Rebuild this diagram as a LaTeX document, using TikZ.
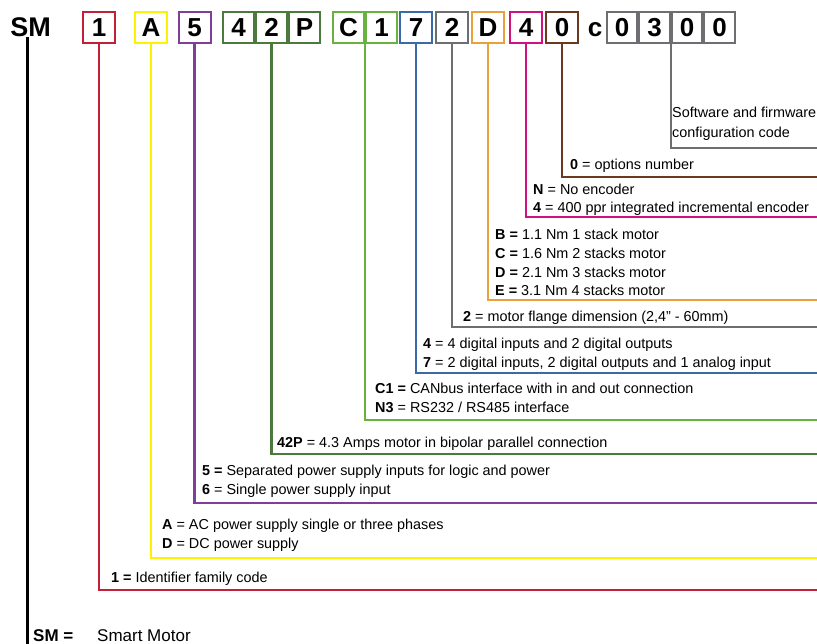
\documentclass[tikz,border=0pt]{standalone}
\usepackage{fontspec}
\setmainfont{Liberation Sans}
\usetikzlibrary{positioning}
\definecolor{smred}{HTML}{C12038}
\definecolor{smyellow}{HTML}{FFF200}
\definecolor{smpurple}{HTML}{7F3F98}
\definecolor{smdkgreen}{HTML}{4B7A3E}
\definecolor{smltgreen}{HTML}{6AB23F}
\definecolor{smblue}{HTML}{3A6BA8}
\definecolor{smgray}{HTML}{6D6E71}
\definecolor{smorange}{HTML}{E9A23B}
\definecolor{smmagenta}{HTML}{D2117F}
\definecolor{smbrown}{HTML}{6B3A1E}

\begin{document}
\begin{tikzpicture} [
x=1pt, y=-1pt,
codebox/.style={rectangle, draw=#1, line width=2pt, minimum width=31pt, minimum height=31pt, inner sep=0pt, font=\bfseries\fontsize{26}{26}\selectfont},
bracket/.style={draw=#1, line width=2.5pt},
legend/.style={anchor=base west, inner sep=0pt, align=left, font=\fontsize{14.4}{18.8}\selectfont},
]
\useasboundingbox (0,0) rectangle (817,644);

%Code
\node[inner sep=0pt, font=\bfseries\fontsize{27}{27}\selectfont] (sm) at (30.5,27.5) {SM};
\node[codebox=smred, minimum width=32pt]     (one)    at (99,27.5)    {1};
\node[codebox=smyellow, minimum width=32pt]  (ac)     at (151,27.5)   {A};
\node[codebox=smpurple, minimum width=32pt]  (five)   at (194.5,27.5) {5};
\node[codebox=smdkgreen]   (ampA)   at (238.5,27.5)          {4};
\node[codebox=smdkgreen]   (ampB)   [right=0pt of ampA]      {2};
\node[codebox=smdkgreen]   (ampC)   [right=0pt of ampB]      {P};
\node[codebox=smltgreen]   (busA)   at (348.5,27.5)          {C};
\node[codebox=smltgreen]   (busB)   [right=0pt of busA]      {1};
\node[codebox=smblue, minimum width=32pt]    (io)     at (416,27.5)   {7};
\node[codebox=smgray, minimum width=32pt]    (flange) at (452,27.5)   {2};
\node[codebox=smorange, minimum width=32pt]  (torque) at (488,27.5)   {D};
\node[codebox=smmagenta, minimum width=32pt] (enc)    at (526,27.5)   {4};
\node[codebox=smbrown, minimum width=32pt]   (opt)    at (562,27.5)   {0};
\node[anchor=base, inner sep=0pt, font=\bfseries\fontsize{26}{26}\selectfont] (cfg) at (595,37) {c};
\node[codebox=smgray, minimum width=30.5pt]  (swA)    at (622,27.5)   {0};
\node[codebox=smgray, minimum width=30.5pt]  (swB)    [right=0pt of swA]  {3};
\node[codebox=smgray, minimum width=30.5pt]  (swC)    [right=0pt of swB]  {0};
\node[codebox=smgray, minimum width=30.5pt]  (swD)    [right=0pt of swC]  {0};

%Legend (anchored at the baseline of the last line)
\node[legend, font=\fontsize{14.4}{20}\selectfont] (swtxt) at (672,138) {Software and firmware\\configuration code};
\node[legend] (opttxt)  at (570,170) {\textbf{0} = options number};
\node[legend] (enctxt)  at (533,213) {\textbf{N} = No encoder\\\textbf{4} = 400 ppr integrated incremental encoder};
\node[legend] (tqtxt)   at (495,296) {\textbf{B =} 1.1 Nm 1 stack motor\\\textbf{C =} 1.6 Nm 2 stacks motor\\\textbf{D =} 2.1 Nm 3 stacks motor\\\textbf{E =} 3.1 Nm 4 stacks motor};
\node[legend] (fltxt)   at (463,322) {\textbf{2} = motor flange dimension (2,4" - 60mm)};
\node[legend] (iotxt)   at (423,367) {\textbf{4} = 4 digital inputs and 2 digital outputs\\\textbf{7} = 2 digital inputs, 2 digital outputs and 1 analog input};
\node[legend] (bustxt)  at (375,412) {\textbf{C1 =} CANbus interface with in and out connection\\\textbf{N3} = RS232 / RS485 interface};
\node[legend] (amptxt)  at (277,447) {\textbf{42P} = 4.3 Amps motor in bipolar parallel connection};
\node[legend] (fivetxt) at (202,494) {\textbf{5 =} Separated power supply inputs for logic and power\\\textbf{6} = Single power supply input};
\node[legend] (actxt)   at (162,548) {\textbf{A} = AC power supply single or three phases\\\textbf{D} = DC power supply};
\node[legend] (onetxt)  at (111,582) {\textbf{1 =} Identifier family code};
\node[anchor=base west, inner sep=0pt, font=\bfseries\fontsize{17}{17}\selectfont] (smkey) at (33,641) {SM =};
\node[anchor=base west, inner sep=0pt, font=\fontsize{17}{17}\selectfont] (smname) at (97,641) {Smart Motor};

%Ends
\coordinate (eSw)     at (817,148);
\coordinate (eOpt)    at (817,177);
\coordinate (eEnc)    at (817,217);
\coordinate (eTorque) at (817,300);
\coordinate (eFlange) at (817,327);
\coordinate (eIo)     at (817,373);
\coordinate (eBus)    at (817,420);
\coordinate (eAmp)    at (817,454);
\coordinate (eFive)   at (817,503);
\coordinate (eAc)     at (817,558);
\coordinate (eOne)    at (817,590);
\coordinate (smend)   at (27,644);

%Lines
\draw[bracket=smgray]    (swB.south east) |- (eSw);
\draw[bracket=smbrown]   (opt.south) |- (eOpt);
\draw[bracket=smmagenta] (enc.south) |- (eEnc);
\draw[bracket=smorange]  (torque.south) |- (eTorque);
\draw[bracket=smgray]    (flange.south) |- (eFlange);
\draw[bracket=smblue]    (io.south) |- (eIo);
\draw[bracket=smltgreen] (busA.south east) |- (eBus);
\draw[bracket=smdkgreen] (ampB.south) |- (eAmp);
\draw[bracket=smpurple]  (five.south) |- (eFive);
\draw[bracket=smyellow]  (ac.south) |- (eAc);
\draw[bracket=smred]     (one.south) |- (eOne);
\draw[line width=3pt]    (sm.south -| smend) -- (smend);

\end{tikzpicture}
\end{document}
